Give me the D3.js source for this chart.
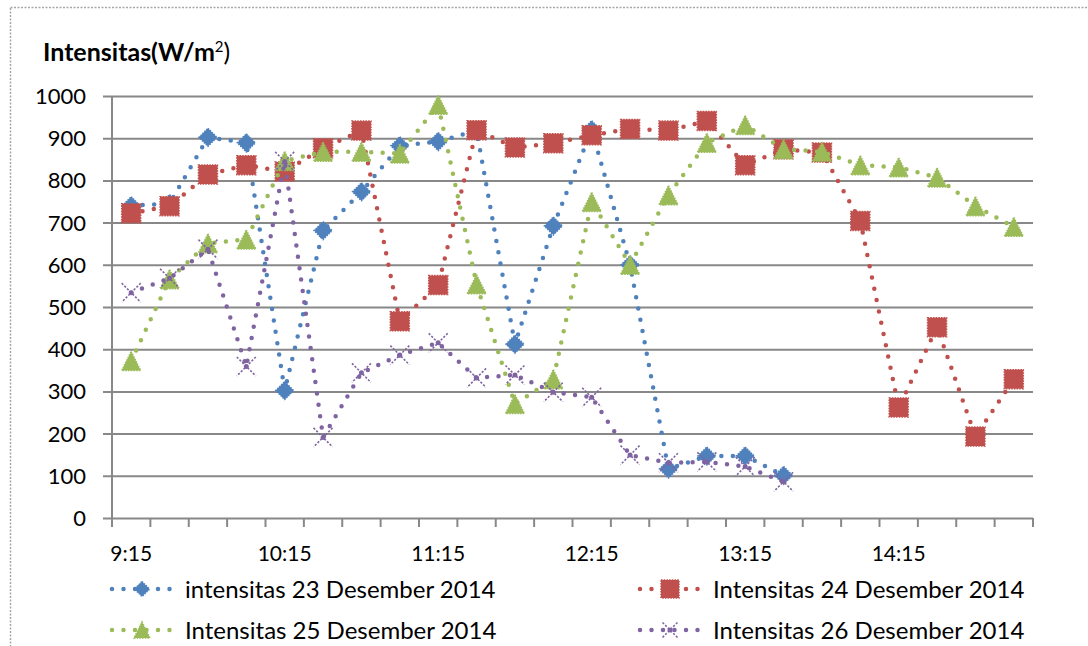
<!DOCTYPE html>
<html>
<head>
<meta charset="utf-8">
<script src="https://cdn.jsdelivr.net/npm/d3@7"></script>
<style>
  body { margin: 0; background: #fff; }
  svg { display: block; font-family: Lato, "Open Sans", sans-serif; }
</style>
</head>
<body>
<svg id="chart" width="1088" height="646"></svg>
<script>
// categories every 15 minutes, 9:15 .. 15:00
var times = ['9:15','9:30','9:45','10:00','10:15','10:30','10:45','11:00',
             '11:15','11:30','11:45','12:00','12:15','12:30','12:45','13:00',
             '13:15','13:30','13:45','14:00','14:15','14:30','14:45','15:00'];
var tickLabels = ['9:15','10:15','11:15','12:15','13:15','14:15'];
var yTicks = [0,100,200,300,400,500,600,700,800,900,1000];

var names = ['intensitas 23 Desember 2014', 'Intensitas 24 Desember 2014',
             'Intensitas 25 Desember 2014', 'Intensitas 26 Desember 2014'];

var des23 = [740, 745, 902, 889, 302, 681, 773, 882, 892, 918, 412, 692,
             920, 600, 116, 147, 147, 101];
var des24 = [722, 739, 814, 836, 821, 876, 918, 466, 552, 919, 878, 888,
             907, 922, 918, 941, 836, 874, 866, 704, 262, 452, 193, 329];
var des25 = [372, 566, 651, 660, 846, 868, 868, 864, 979, 554, 270, 329,
             749, 600, 765, 889, 931, 874, 868, 836, 831, 807, 739, 690];
var des26 = [534, 568, 637, 359, 845, 191, 344, 386, 415, 332, 339, 298,
             286, 149, 131, 133, 122, 86];

var colors = ['#4f81bd', '#c0504d', '#9bbb59', '#8064a2'];
var shapes = ['diamond', 'square', 'triangle', 'cross'];
var allData = [des23, des24, des25, des26];

var svg = d3.select('#chart');

// outer dotted frame
svg.append('rect')
   .attr('x', 10.5).attr('y', 7.5)
   .attr('width', 1200).attr('height', 700)
   .attr('fill', 'none')
   .attr('stroke', '#a6a6a6')
   .attr('stroke-width', 1.5)
   .attr('stroke-dasharray', '2 1.5');

var pLeft = 112, pRight = 1033, pTop = 96, pBottom = 518;

var x = d3.scaleBand().domain(times).range([pLeft, pRight]).padding(0);
var y = d3.scaleLinear().domain([0, 1000]).range([pBottom, pTop]);
var cx = function(i) { return x(times[i]) + x.bandwidth() / 2; };

// gridlines + y axis
var yAxis = d3.axisLeft(y)
              .tickValues(yTicks)
              .tickSize(-(pRight - pLeft))
              .tickFormat('');
svg.append('g')
   .attr('transform', 'translate(' + pLeft + ',0)')
   .call(yAxis)
   .call(function(g) {
      g.select('.domain').remove();
      g.selectAll('line').attr('stroke', '#888').attr('stroke-width', 2)
       .attr('x1', -9);
   });

svg.append('line')
   .attr('x1', pLeft).attr('x2', pLeft)
   .attr('y1', pTop).attr('y2', pBottom)
   .attr('stroke', '#888').attr('stroke-width', 2);

svg.selectAll('.ylab')
   .data(yTicks)
   .enter().append('text')
   .attr('class', 'ylab')
   .attr('x', 86)
   .attr('y', function(d) { return y(d); })
   .attr('dy', '0.36em')
   .attr('text-anchor', 'end')
   .attr('font-size', '22px')
   .attr('fill', '#000')
   .text(function(d) { return d; });

// x tick marks between categories
var edges = times.map(function(t) { return x(t); }).concat([pRight]);
svg.selectAll('.xtick')
   .data(edges)
   .enter().append('line')
   .attr('x1', function(d) { return d; })
   .attr('x2', function(d) { return d; })
   .attr('y1', pBottom).attr('y2', pBottom + 9)
   .attr('stroke', '#888').attr('stroke-width', 2);

svg.selectAll('.xlab')
   .data(tickLabels)
   .enter().append('text')
   .attr('x', function(d) { return x(d) + x.bandwidth() / 2; })
   .attr('y', 561)
   .attr('text-anchor', 'middle')
   .attr('font-size', '21px')
   .text(function(d) { return d; });

// title
var title = svg.append('text')
   .attr('x', 43).attr('y', 61)
   .attr('font-size', '25px');
title.append('tspan').attr('font-weight', 'bold').text('Intensitas(W/m');
title.append('tspan').attr('font-size', '15px').attr('dy', -9).text('2');
title.append('tspan').attr('dy', 9).text(')');

function marker(g, shape, color, s) {
  var h = s / 2;
  if (shape == 'diamond') {
    g.append('path')
     .attr('d', 'M0,' + (-h) + 'L' + h + ',0L0,' + h + 'L' + (-h) + ',0Z')
     .attr('fill', color).attr('stroke', color)
     .attr('stroke-width', 1.5).attr('stroke-dasharray', '1.5 1.2');
  }
  else if (shape == 'square') {
    g.append('rect')
     .attr('x', -h).attr('y', -h).attr('width', s).attr('height', s)
     .attr('fill', color).attr('stroke', color)
     .attr('stroke-width', 1.5).attr('stroke-dasharray', '1.5 1.2');
  }
  else if (shape == 'triangle') {
    g.append('path')
     .attr('d', 'M0,' + (-h) + 'L' + h + ',' + h + 'L' + (-h) + ',' + h + 'Z')
     .attr('fill', color).attr('stroke', color)
     .attr('stroke-width', 1.5).attr('stroke-dasharray', '1.5 1.2');
  }
  else {
    // dotted X with a dot in the middle
    g.append('path')
     .attr('d', 'M' + (-h) + ',' + (-h) + 'L' + h + ',' + h +
                'M' + h + ',' + (-h) + 'L' + (-h) + ',' + h)
     .attr('fill', 'none').attr('stroke', color)
     .attr('stroke-width', 1.6).attr('stroke-dasharray', '2.2 1.6');
    g.append('circle').attr('r', 2.5).attr('fill', color);
  }
}
var sizes = [18, 19, 19, 19];

var line = d3.line()
             .x(function(d, i) { return cx(i); })
             .y(function(d) { return y(d); });

for (var s = 0; s < allData.length; s++) {
  var g = svg.append('g');
  g.append('path')
   .attr('d', line(allData[s]))
   .attr('fill', 'none')
   .attr('stroke', colors[s])
   .attr('stroke-width', 4.5)
   .attr('stroke-linecap', 'round')
   .attr('stroke-dasharray', '0 11.5');
  for (var i = 0; i < allData[s].length; i++) {
    var m = g.append('g')
             .attr('transform', 'translate(' + cx(i) + ',' + y(allData[s][i]) + ')');
    marker(m, shapes[s], colors[s], sizes[s]);
  }
}

// legend, two columns
var legX = [110, 638], legY = [589, 630];
for (var k = 0; k < names.length; k++) {
  var lx = legX[k % 2], ly = legY[Math.floor(k / 2)];
  var lg = svg.append('g').attr('transform', 'translate(' + lx + ',' + ly + ')');
  lg.append('line')
    .attr('x1', 2).attr('x2', 60)
    .attr('stroke', colors[k])
    .attr('stroke-width', 4.5)
    .attr('stroke-linecap', 'round')
    .attr('stroke-dasharray', '0 11.5');
  var mg = lg.append('g').attr('transform', 'translate(32,0)');
  marker(mg, shapes[k], colors[k], [15, 18, 16, 15][k]);
  lg.append('text')
    .attr('x', 75)
    .attr('dy', '0.36em')
    .attr('font-size', '24px')
    .text(names[k]);
}
</script>
</body>
</html>
